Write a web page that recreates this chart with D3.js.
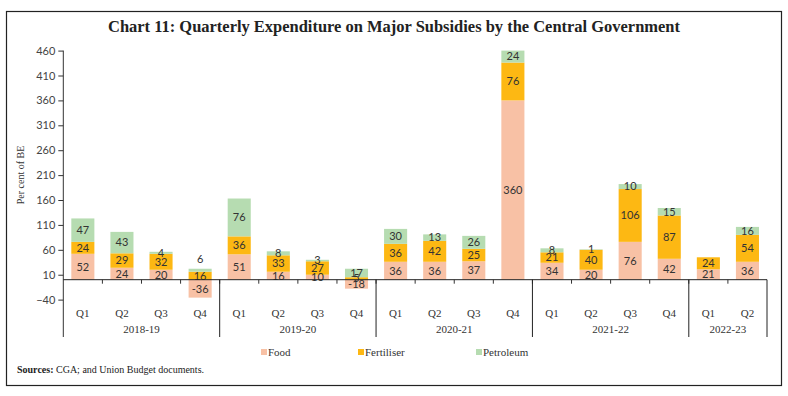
<!DOCTYPE html>
<html lang="en">

<head>
    <meta charset="UTF-8">
    <title>Chart 11</title>
    <script src="https://d3js.org/d3.v7.min.js"></script>
    <style>
        body { margin: 0; background: #fff; }
        .serif { font-family: "Liberation Serif", "DejaVu Serif", serif; }
        .sans { font-family: Lato, "Open Sans", sans-serif; }
    </style>
</head>

<body>
    <script>
        // years and the quarters shown for each
        const years = ["2018-19", "2019-20", "2020-21", "2021-22", "2022-23"];
        const quartersPerYear = [
            ["Q1", "Q2", "Q3", "Q4"],
            ["Q1", "Q2", "Q3", "Q4"],
            ["Q1", "Q2", "Q3", "Q4"],
            ["Q1", "Q2", "Q3", "Q4"],
            ["Q1", "Q2"]
        ];

        // per cent of BE
        const food = [52, 24, 20, -36, 51, 16, 10, -18, 36, 36, 37, 360, 34, 20, 76, 42, 21, 36];
        const fertiliser = [24, 29, 32, 16, 36, 33, 27, 5, 36, 42, 25, 76, 21, 40, 106, 87, 24, 54];
        const petroleum = [47, 43, 4, 6, 76, 8, 3, 17, 30, 13, 26, 24, 8, 1, 10, 15, 0, 16];

        const seriesNames = ["Food", "Fertiliser", "Petroleum"];
        const colors = ["#F8C1A5", "#FDB813", "#B6DCB1"];
        const yTicks = [-40, 10, 60, 110, 160, 210, 260, 310, 360, 410, 460];

        const W = 788, H = 396;
        const left = 63.3, right = 767, zeroY = 279.7, topY = 50.6;

        // build rows for d3.stack
        const cats = [];
        years.forEach((y, yi) => quartersPerYear[yi].forEach(q => cats.push({ year: y, q: q })));
        const rows = cats.map((c, i) => ({
            id: i, Food: food[i], Fertiliser: fertiliser[i], Petroleum: petroleum[i]
        }));

        const svg = d3.select("body").append("svg")
            .attr("width", W).attr("height", H);

        // outer frame
        svg.append("rect")
            .attr("x", 6.5).attr("y", 11.5)
            .attr("width", 775).attr("height", 374)
            .attr("fill", "none").attr("stroke", "#222").attr("stroke-width", 1.2);

        svg.append("text")
            .attr("class", "serif")
            .attr("x", 394).attr("y", 32)
            .attr("text-anchor", "middle")
            .attr("font-weight", "bold")
            .attr("font-size", 16)
            .attr("textLength", 572)
            .attr("lengthAdjust", "spacingAndGlyphs")
            .attr("fill", "#222")
            .text("Chart 11: Quarterly Expenditure on Major Subsidies by the Central Government");

        const x = d3.scaleBand()
            .domain(rows.map(d => d.id))
            .range([left, right])
            .paddingInner(0.41)
            .paddingOuter(0.205);

        const y = d3.scaleLinear()
            .domain([0, 460])
            .range([zeroY, topY]);

        // y axis
        const yAxis = svg.append("g")
            .attr("transform", "translate(" + left + ",0)")
            .call(d3.axisLeft(y).tickValues(yTicks).tickSize(5).tickPadding(3));
        yAxis.select(".domain").remove();
        yAxis.selectAll("line").attr("stroke", "#333");
        yAxis.selectAll("text")
            .attr("class", "sans")
            .attr("font-size", 11)
            .attr("fill", "#444");
        svg.append("line")
            .attr("x1", left).attr("x2", left)
            .attr("y1", y(460)).attr("y2", 337)
            .attr("stroke", "#333");

        svg.append("text")
            .attr("class", "serif")
            .attr("transform", "translate(24," + 175 + ") rotate(-90)")
            .attr("text-anchor", "middle")
            .attr("font-size", 10)
            .attr("fill", "#333")
            .text("Per cent of BE");

        // stacked bars
        const stack = d3.stack()
            .keys(seriesNames)
            .offset(d3.stackOffsetDiverging);
        const layers = stack(rows);

        const layer = svg.selectAll("g.layer")
            .data(layers)
            .enter().append("g")
            .attr("class", "layer")
            .attr("fill", (d, i) => colors[i]);

        layer.selectAll("rect")
            .data(d => d)
            .enter().append("rect")
            .attr("x", d => x(d.data.id))
            .attr("y", d => y(d[1]))
            .attr("width", x.bandwidth())
            .attr("height", d => y(d[0]) - y(d[1]));

        // data labels, centred in each segment; a thin top segment whose
        // label would sit on the one below is lifted above the bar
        const mid = d => y((d[0] + d[1]) / 2);
        layers.forEach((ly, li) => {
            svg.append("g").selectAll("text")
                .data(ly.filter(d => d.data[ly.key] !== 0))
                .enter().append("text")
                .attr("class", "sans")
                .attr("x", d => x(d.data.id) + x.bandwidth() / 2)
                .attr("y", (d, i) => {
                    if (li === layers.length - 1 && li > 0) {
                        const below = layers[li - 1][d.data.id];
                        const h = y(d[0]) - y(d[1]);
                        if (h < 4 && Math.abs(mid(below) - mid(d)) < 6.2) return y(d[1]) - 10;
                    }
                    return mid(d);
                })
                .attr("dy", "0.35em")
                .attr("text-anchor", "middle")
                .attr("font-size", 11)
                .attr("fill", "#333")
                .text(d => d.data[ly.key]);
        });

        // category axis
        svg.append("line")
            .attr("x1", left).attr("x2", right)
            .attr("y1", zeroY).attr("y2", zeroY)
            .attr("stroke", "#222");

        const step = x.step();
        rows.forEach((d, i) => {
            if (i > 0) {
                svg.append("line")
                    .attr("x1", left + i * step).attr("x2", left + i * step)
                    .attr("y1", zeroY).attr("y2", zeroY + 4)
                    .attr("stroke", "#333");
            }
            svg.append("text")
                .attr("class", "serif")
                .attr("x", x(d.id) + x.bandwidth() / 2)
                .attr("y", 317)
                .attr("text-anchor", "middle")
                .attr("font-size", 11)
                .attr("fill", "#333")
                .text(cats[i].q);
        });

        let start = 0;
        years.forEach((yr, yi) => {
            const n = quartersPerYear[yi].length;
            const x0 = left + start * step, x1 = left + (start + n) * step;
            svg.append("line")
                .attr("x1", x1).attr("x2", x1)
                .attr("y1", zeroY).attr("y2", 337)
                .attr("stroke", "#222");
            svg.append("text")
                .attr("class", "serif")
                .attr("x", (x0 + x1) / 2)
                .attr("y", 333)
                .attr("text-anchor", "middle")
                .attr("font-size", 11)
                .attr("fill", "#333")
                .text(yr);
            start += n;
        });

        // legend
        const legendX = [261, 358, 476];
        seriesNames.forEach((s, i) => {
            svg.append("rect")
                .attr("x", legendX[i]).attr("y", 349)
                .attr("width", 6).attr("height", 6)
                .attr("fill", colors[i]);
            svg.append("text")
                .attr("class", "serif")
                .attr("x", legendX[i] + 7).attr("y", 356)
                .attr("font-size", 11)
                .attr("fill", "#333")
                .text(s);
        });

        // source note
        const src = svg.append("text")
            .attr("class", "serif")
            .attr("x", 17).attr("y", 373)
            .attr("font-size", 10)
            .attr("fill", "#222");
        src.append("tspan").attr("font-weight", "bold").text("Sources:");
        src.append("tspan").text(" CGA; and Union Budget documents.");
    </script>
</body>

</html>
